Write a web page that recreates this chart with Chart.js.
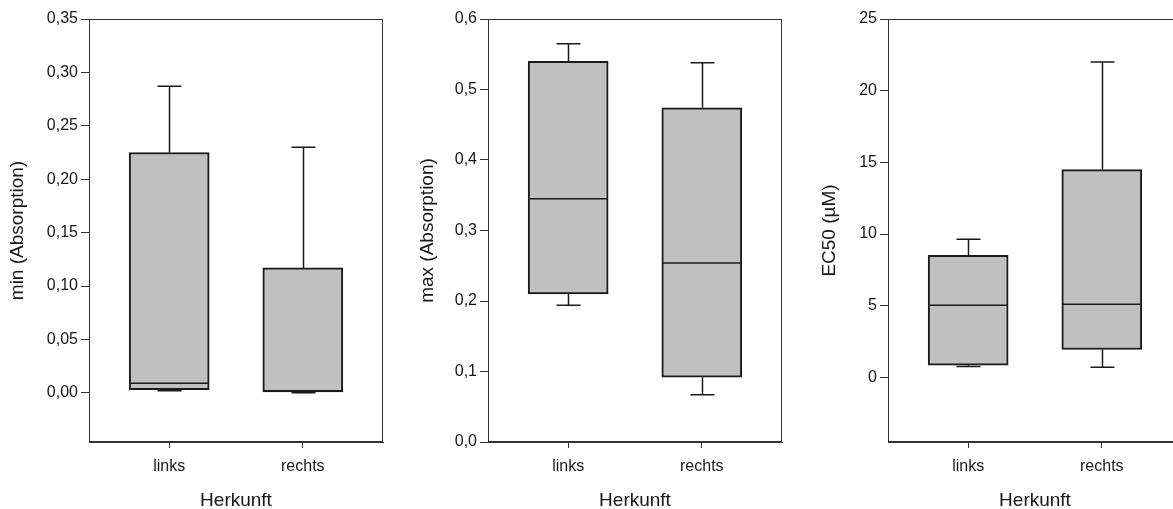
<!DOCTYPE html>
<html>
<head>
<meta charset="utf-8">
<script src="https://cdn.jsdelivr.net/npm/chart.js@4.4.1/dist/chart.umd.min.js"></script>
<style>
  html, body { margin: 0; padding: 0; background: #fff; overflow: hidden; }
  body { width: 1173px; height: 509px; position: relative; }
  canvas { position: absolute; top: 0; }
</style>
</head>
<body>
<canvas id="c1" width="400" height="509" style="left:0px"></canvas>
<canvas id="c2" width="400" height="509" style="left:390px"></canvas>
<canvas id="c3" width="400" height="509" style="left:790px"></canvas>
<script>
const categories = ['links', 'rechts']

// five-number summaries per group: [min, q1, median, q3, max]
const minLinks = [0.002, 0.003, 0.009, 0.225, 0.287]
const minRechts = [0.0, 0.001, 0.002, 0.117, 0.230]
const maxLinks = [0.194, 0.210, 0.345, 0.540, 0.565]
const maxRechts = [0.067, 0.092, 0.254, 0.474, 0.538]
const ec50Links = [0.77, 0.85, 5.03, 8.52, 9.64]
const ec50Rechts = [0.72, 1.95, 5.1, 14.5, 22.0]

const minTicks = [0, 0.05, 0.1, 0.15, 0.2, 0.25, 0.3, 0.35]
const maxTicks = [0, 0.1, 0.2, 0.3, 0.4, 0.5, 0.6]
const ec50Ticks = [0, 5, 10, 15, 20, 25]

const FONT = "'Liberation Sans', Arial, sans-serif"
const TEXT = '#161616'
const AXIS = '#333333'
const BOX_FILL = '#c0c0c0'
const BOX_LINE = '#1a1a1a'
const CAP = 12

// whiskers, caps, medians and the closed frame around the plot
function boxPlugin(stats) {
  return {
    id: 'boxWhiskers',
    afterDatasetsDraw(chart) {
      const { ctx } = chart
      const xs = chart.scales.x
      const ys = chart.scales.y
      const bars = chart.getDatasetMeta(0).data
      ctx.save()
      ctx.strokeStyle = BOX_LINE
      ctx.lineWidth = 1.5
      stats.forEach((s, i) => {
        const cx = Math.round(xs.getPixelForValue(i + 1)) + 0.5
        const half = bars[i].width / 2
        const [lo, q1, med, q3, hi] = s.map((v) => ys.getPixelForValue(v))
        ctx.beginPath()
        ctx.moveTo(cx, q3); ctx.lineTo(cx, hi)
        ctx.moveTo(cx - CAP, hi); ctx.lineTo(cx + CAP, hi)
        ctx.moveTo(cx, q1); ctx.lineTo(cx, lo)
        ctx.moveTo(cx - CAP, lo); ctx.lineTo(cx + CAP, lo)
        ctx.stroke()
        ctx.beginPath()
        ctx.moveTo(bars[i].x - half + 1, med); ctx.lineTo(bars[i].x + half - 1, med)
        ctx.stroke()
      })
      ctx.restore()
    },
    afterDraw(chart) {
      const { ctx, chartArea: a } = chart
      ctx.save()
      ctx.strokeStyle = AXIS
      ctx.lineWidth = 1
      const l = Math.round(a.left) + 0.5
      const t = Math.round(a.top) + 0.5
      const r = Math.round(a.right) - 0.5
      const b = Math.round(a.bottom) - 0.5
      ctx.strokeRect(l, t, r - l, b - t)
      ctx.restore()
    },
  }
}

function makePanel(id, stats, ticks, decimals, yMin, yMax, yTitle, yWidth, titleOffset, rightPad) {
  const el = document.getElementById(id)
  return new Chart(el, {
    type: 'bar',
    data: {
      datasets: [
        {
          data: stats.map((s, i) => ({ x: i + 1, y: [s[1], s[3]] })),
          backgroundColor: BOX_FILL,
          borderColor: BOX_LINE,
          borderWidth: 2,
          borderSkipped: false,
          barThickness: 80,
        },
      ],
    },
    options: {
      responsive: false,
      animation: false,
      layout: { padding: { top: 19, right: rightPad, bottom: 0, left: 0 } },
      plugins: { legend: { display: false }, tooltip: { enabled: false } },
      scales: {
        x: {
          type: 'linear',
          min: 0.4,
          max: 2.6,
          offset: false,
          afterBuildTicks: (s) => {
            s.ticks = categories.map((c, i) => ({ value: i + 1 }))
          },
          afterFit: (s) => {
            s.height = 67
          },
          ticks: {
            callback: (v) => categories[v - 1],
            autoSkip: false,
            maxRotation: 0,
            padding: 9,
            color: TEXT,
            font: { family: FONT, size: 16 },
          },
          grid: { offset: false, drawOnChartArea: false, tickLength: 6, color: AXIS, lineWidth: 1 },
          border: { color: AXIS, width: 1 },
          title: {
            display: true,
            text: 'Herkunft',
            color: TEXT,
            font: { family: FONT, size: 19, lineHeight: 0.85 },
            padding: 0,
          },
        },
        y: {
          min: yMin,
          max: yMax,
          afterBuildTicks: (s) => {
            s.ticks = ticks.map((v) => ({ value: v }))
          },
          afterFit: (s) => {
            s.width = yWidth
          },
          ticks: {
            callback: (v) => v.toFixed(decimals).replace('.', ','),
            padding: 3,
            color: TEXT,
            font: { family: FONT, size: 16 },
          },
          grid: { drawOnChartArea: false, tickLength: 8, color: AXIS, lineWidth: 1 },
          border: { color: AXIS, width: 1 },
          title: {
            display: true,
            text: yTitle,
            color: TEXT,
            font: { family: FONT, size: 19, lineHeight: 1 },
            padding: { top: titleOffset - 9.5, bottom: 0 },
          },
        },
      },
    },
    plugins: [boxPlugin(stats)],
  })
}

makePanel('c1', [minLinks, minRechts], minTicks, 2, -0.046, 0.35, 'min (Absorption)', 89, 18, 17)
makePanel('c2', [maxLinks, maxRechts], maxTicks, 1, 0, 0.6, 'max (Absorption)', 98, 38, 8)
makePanel('c3', [ec50Links, ec50Rechts], ec50Ticks, 0, -4.5, 25, 'EC50 (µM)', 98, 40, 8)
</script>
</body>
</html>
